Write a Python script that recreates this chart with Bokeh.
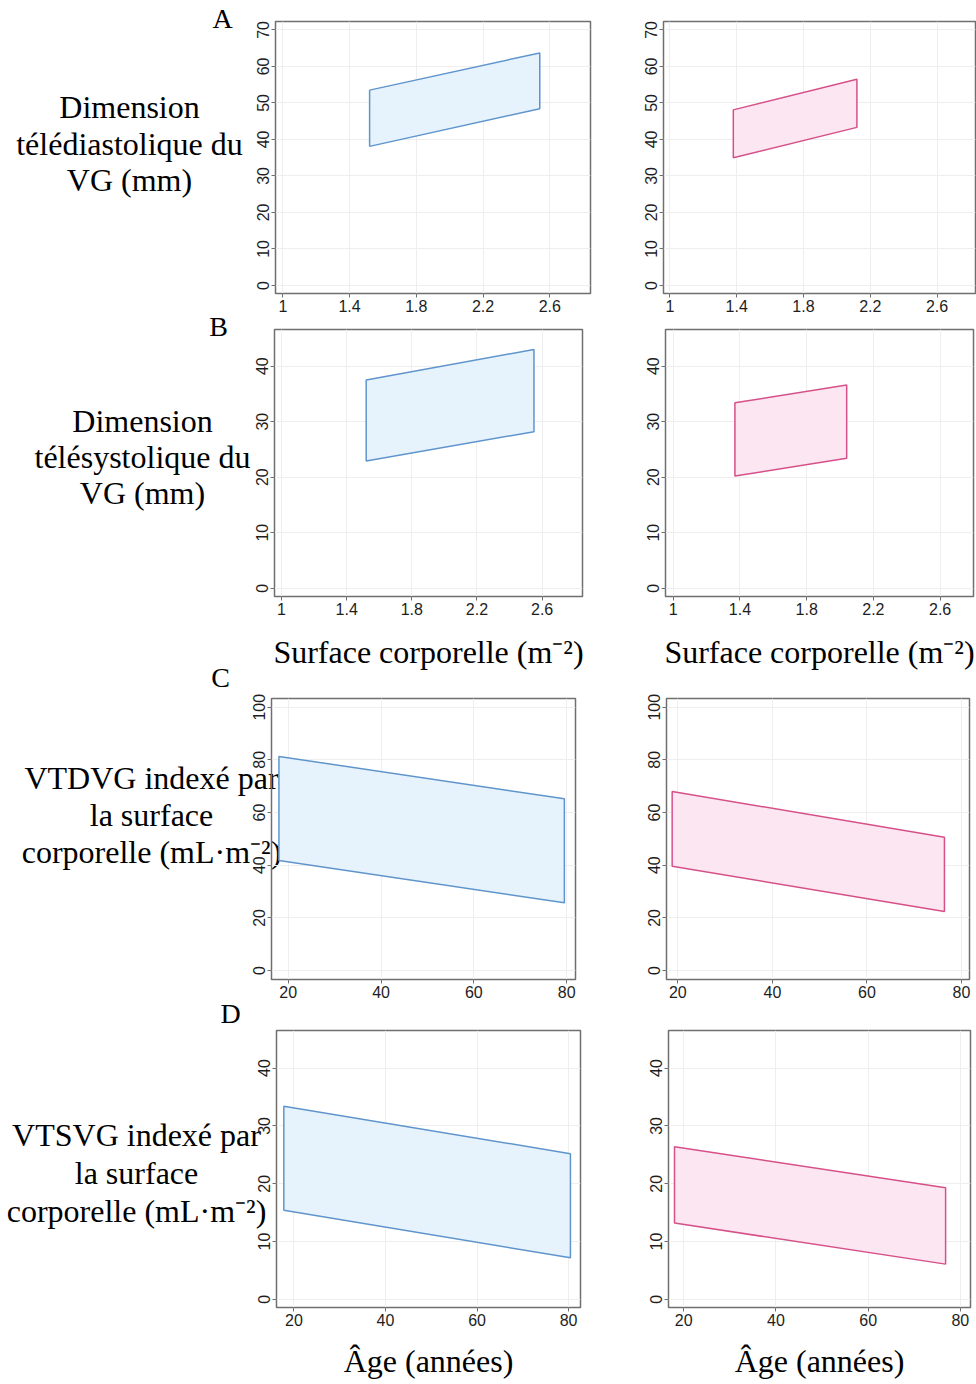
from bokeh.plotting import figure
from bokeh.layouts import row, column
from bokeh.models import FixedTicker, Range1d
from bokeh.core.properties import value
from bokeh.embed import file_html
from bokeh.resources import INLINE

# ---------------- data ----------------
bsa_ticks = [1, 1.4, 1.8, 2.2, 2.6]
age_ticks = [20, 40, 60, 80]
a_yticks = [0, 10, 20, 30, 40, 50, 60, 70]
b_yticks = [0, 10, 20, 30, 40]
c_yticks = [0, 20, 40, 60, 80, 100]
d_yticks = [0, 10, 20, 30, 40]

# A: LV end-diastolic dimension vs body surface area
a_men_bsa = [1.52, 2.54]
a_men_upper = [53.5, 63.7]
a_men_lower = [38.1, 48.4]
a_women_bsa = [1.38, 2.12]
a_women_upper = [48.1, 56.5]
a_women_lower = [35.0, 43.3]

# B: LV end-systolic dimension vs body surface area
b_men_bsa = [1.52, 2.55]
b_men_upper = [37.5, 43.0]
b_men_lower = [22.9, 28.2]
b_women_bsa = [1.37, 2.04]
b_women_upper = [33.4, 36.6]
b_women_lower = [20.2, 23.4]

# C: indexed LV end-diastolic volume vs age
c_men_age = [18.0, 79.5]
c_men_upper = [81.3, 65.2]
c_men_lower = [41.8, 25.7]
c_women_age = [18.8, 76.4]
c_women_upper = [68.0, 50.6]
c_women_lower = [39.6, 22.4]

# D: indexed LV end-systolic volume vs age
d_men_age = [17.8, 80.4]
d_men_upper = [33.4, 25.2]
d_men_lower = [15.4, 7.2]
d_women_age = [18.0, 76.8]
d_women_upper = [26.4, 19.3]
d_women_lower = [13.2, 6.1]

panel_letters = ["A", "B", "C", "D"]
row_labels = [
    ["Dimension", "télédiastolique du", "VG (mm)"],
    ["Dimension", "télésystolique du", "VG (mm)"],
    ["VTDVG indexé par", "la surface", "corporelle (mL·m⁻²)"],
    ["VTSVG indexé par", "la surface", "corporelle (mL·m⁻²)"],
]
bsa_title = "Surface corporelle (m⁻²)"
age_title = "Âge (années)"

# ---------------- styles / page positions ----------------
BLUE_LINE, BLUE_FILL = "#5f95cc", "#e6f3fc"
PINK_LINE, PINK_FILL = "#d6508a", "#fce6f1"
FRAME = "#6f6f6f"
SERIF = "Liberation Serif"
SANS = "Liberation Sans"

PAGE_W, PAGE_H = 976, 1384
TEXT_W = 290
LEFT_W, RIGHT_W = 615, 361

letter_pos = [(222, 18), (218, 326), (220, 677), (230, 1013)]
label_cx = [129, 142, 151, 136]
label_baselines = [[106, 143, 179], [420, 456, 492], [777, 814, 851], [1134, 1172, 1210]]


def panel(ox, oy, w, h, fl, fr, ft, fb, xr, yr, xticks, yticks,
          xs, up, lo, line, fill, xtitle=None, title_standoff=10):
    """fl/fr/ft/fb: frame edges in page pixels; ox/oy: figure origin."""
    p = figure(width=w, height=h, x_range=Range1d(*xr), y_range=Range1d(*yr),
               output_backend="svg", toolbar_location=None,
               min_border_left=fl - ox, min_border_right=ox + w - fr,
               min_border_top=ft - oy, min_border_bottom=oy + h - fb)
    p.background_fill_color = None
    p.border_fill_color = None
    p.outline_line_color = FRAME
    p.outline_line_width = 1.5
    p.xaxis.ticker = FixedTicker(ticks=xticks)
    p.yaxis.ticker = FixedTicker(ticks=yticks)
    p.xaxis.major_label_overrides = {1: "1"}
    for ax in (p.xaxis[0], p.yaxis[0]):
        ax.axis_line_color = None
        ax.major_tick_line_color = FRAME
        ax.major_tick_line_width = 1
        ax.major_tick_out = 4
        ax.major_tick_in = 0
        ax.minor_tick_line_color = None
        ax.major_label_text_font = SANS
        ax.major_label_text_font_size = "16px"
        ax.major_label_text_color = "#1e1e1e"
        ax.major_label_standoff = 2
    p.yaxis.major_label_orientation = "vertical"
    p.grid.grid_line_color = "#eeeeee"
    p.grid.grid_line_width = 1
    if xtitle:
        p.xaxis.axis_label = xtitle
        p.xaxis.axis_label_text_font = SERIF
        p.xaxis.axis_label_text_font_size = "32px"
        p.xaxis.axis_label_text_font_style = "normal"
        p.xaxis.axis_label_text_color = "black"
        p.xaxis.axis_label_standoff = title_standoff
    p.patch([xs[0], xs[1], xs[1], xs[0]], [lo[0], lo[1], up[1], up[0]],
            fill_color=fill, line_color=line, line_width=1.5)
    return p


# ---------------- plot rows ----------------
# Row A : page y 0..320
lA = panel(0, 0, LEFT_W, 320, 275, 590, 21, 293, (0.956, 2.844), (-2.2, 72.3),
           bsa_ticks, a_yticks, a_men_bsa, a_men_upper, a_men_lower, BLUE_LINE, BLUE_FILL)
rA = panel(615, 0, RIGHT_W, 320, 663, 975, 21, 293, (0.962, 2.83), (-2.2, 72.3),
           bsa_ticks, a_yticks, a_women_bsa, a_women_upper, a_women_lower, PINK_LINE, PINK_FILL)

# Row B : page y 320..676
lB = panel(0, 320, LEFT_W, 356, 274, 582, 329, 596, (0.957, 2.848), (-1.5, 46.6),
           bsa_ticks, b_yticks, b_men_bsa, b_men_upper, b_men_lower, BLUE_LINE, BLUE_FILL,
           xtitle=bsa_title, title_standoff=16)
rB = panel(615, 320, RIGHT_W, 356, 665, 973, 329, 596, (0.954, 2.80), (-1.5, 46.6),
           bsa_ticks, b_yticks, b_women_bsa, b_women_upper, b_women_lower, PINK_LINE, PINK_FILL,
           xtitle=bsa_title, title_standoff=16)

# Row C : page y 676..1008
lC = panel(0, 676, LEFT_W, 332, 271, 575, 698, 979, (16.4, 81.9), (-3.4, 103.3),
           age_ticks, c_yticks, c_men_age, c_men_upper, c_men_lower, BLUE_LINE, BLUE_FILL)
rC = panel(615, 676, RIGHT_W, 332, 666, 969, 698, 979, (17.6, 81.7), (-3.4, 103.3),
           age_ticks, c_yticks, c_women_age, c_women_upper, c_women_lower, PINK_LINE, PINK_FILL)

# Row D : page y 1008..1384
lD = panel(0, 1008, LEFT_W, 376, 276, 580, 1030, 1307, (16.2, 82.6), (-1.4, 46.5),
           age_ticks, d_yticks, d_men_age, d_men_upper, d_men_lower, BLUE_LINE, BLUE_FILL,
           xtitle=age_title, title_standoff=14)
rD = panel(615, 1008, RIGHT_W, 376, 668, 970, 1030, 1307, (16.7, 82.2), (-1.4, 46.5),
           age_ticks, d_yticks, d_women_age, d_women_upper, d_women_lower, PINK_LINE, PINK_FILL,
           xtitle=age_title, title_standoff=14)

plots = column(row(lA, rA, spacing=0), row(lB, rB, spacing=0),
               row(lC, rC, spacing=0), row(lD, rD, spacing=0), spacing=0)
plots.margin = (0, 0, 0, -TEXT_W)

# ---------------- left text column (row titles and panel letters) ----------------
tf = figure(width=TEXT_W, height=PAGE_H, x_range=Range1d(0, TEXT_W), y_range=Range1d(PAGE_H, 0),
            output_backend="svg", toolbar_location=None, min_border=0)
tf.axis.visible = False
tf.grid.visible = False
tf.outline_line_color = None
tf.background_fill_color = None
tf.border_fill_color = None

tf.text(x=[p[0] for p in letter_pos], y=[p[1] for p in letter_pos], text=panel_letters,
        text_font=value(SERIF), text_font_size="28px", text_color="black",
        text_align="center", text_baseline="alphabetic")
lx, ly, lt = [], [], []
for cx, bls, lines in zip(label_cx, label_baselines, row_labels):
    for b, t in zip(bls, lines):
        lx.append(cx)
        ly.append(b)
        lt.append(t)
tf.text(x=lx, y=ly, text=lt, text_font=value(SERIF), text_font_size="32px",
        text_color="black", text_align="center", text_baseline="alphabetic")

layout = row(tf, plots, spacing=0)

open("out.html", "w").write(file_html(layout, INLINE))
